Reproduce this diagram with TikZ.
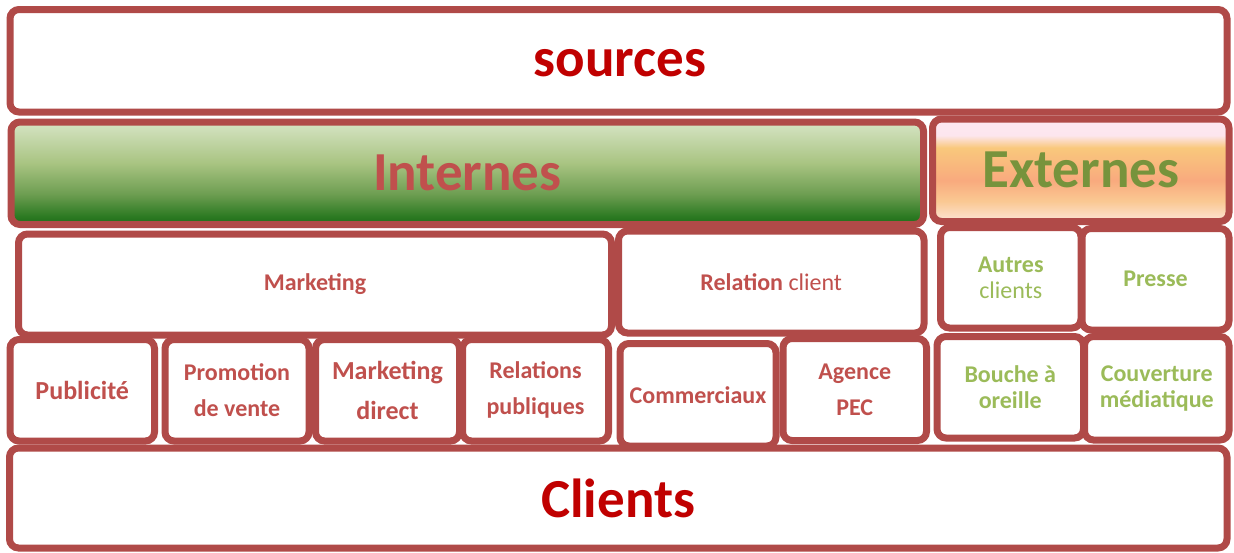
\documentclass[tikz,border=0pt]{standalone}
\usepackage{fontspec}
\setmainfont{Carlito}

\definecolor{framered}{HTML}{B04A48}
\definecolor{txtred}{HTML}{C0504D}
\definecolor{bigred}{HTML}{C00000}
\definecolor{extgreen}{HTML}{77933C}
\definecolor{lightgreen}{HTML}{9BBB59}
% shading colours
\definecolor{intA}{RGB}{30,107,26}
\definecolor{intB}{RGB}{44,122,34}
\definecolor{intC}{RGB}{110,158,82}
\definecolor{intD}{RGB}{169,196,130}
\definecolor{intE}{RGB}{214,228,196}
\definecolor{extA}{RGB}{253,228,214}
\definecolor{extB}{RGB}{250,200,146}
\definecolor{extC}{RGB}{249,170,126}
\definecolor{extD}{RGB}{249,200,124}
\definecolor{extE}{RGB}{253,230,238}
\definecolor{extF}{RGB}{253,232,242}

% 25bp = bottom and 75bp = top of the box
\pgfdeclareverticalshading{internesshade}{100bp}{color(0bp)=(intA); color(25bp)=(intA); color(29bp)=(intB); color(40bp)=(intC); color(55bp)=(intD); color(75bp)=(intE); color(100bp)=(intE)}
\pgfdeclareverticalshading{externesshade}{100bp}{color(0bp)=(extA); color(25bp)=(extA); color(35bp)=(extB); color(45bp)=(extC); color(61bp)=(extD); color(67bp)=(extE); color(75bp)=(extF); color(100bp)=(extF)}

\tikzset{
  tile/.style={draw=framered, line width=7pt, rounded corners=9pt, fill=white, inner sep=0pt, align=center},
  bigtext/.style={font=\fontsize{55}{60}\selectfont\bfseries},
  redtext/.style={font=\fontsize{24}{36}\selectfont\bfseries, text=txtred},
  redlarge/.style={font=\fontsize{26}{40}\selectfont\bfseries, text=txtred},
  greentext/.style={font=\fontsize{24}{26}\selectfont\bfseries, text=lightgreen}
}

\begin{document}
\begin{tikzpicture}[x=1pt,y=-1pt]
\useasboundingbox (0,0) rectangle (1234,552);
% top and bottom bands
\node [tile, minimum width=1217pt, minimum height=102.5pt] (sources) at (618.5,60.75) {};
\node [bigtext, text=bigred] (sourceslabel) at (620,63) {sources};
\node [tile, bigtext, text=bigred, minimum width=1217.5pt, minimum height=100pt] (clients) at (618.25,498) {Clients};
% second row
\node [tile, bigtext, text=txtred, shade, shading=internesshade, minimum width=912.5pt, minimum height=102.5pt] (internes) at (467.25,173.25) {Internes};
\node [tile, bigtext, text=extgreen, shade, shading=externesshade, minimum width=296.5pt, minimum height=102.5pt] (externes) at (1080.75,170.25) {Externes};
% third row
\node [tile, redtext, minimum width=593pt, minimum height=101pt] (marketing) at (315,284.5) {Marketing};
\node [tile, redtext, minimum width=305.5pt, minimum height=102pt] (relation) at (771.25,282) {Relation {\mdseries client}};
\node [tile, greentext, minimum width=140.5pt, minimum height=100.5pt] (autres) at (1010.75,277.75) {Autres\\{\mdseries clients}};
\node [tile, greentext, minimum width=147pt, minimum height=101.5pt] (presse) at (1155.5,279.25) {Presse};
% fourth row
\node [tile, redlarge, minimum width=144.5pt, minimum height=101.5pt] (publicite) at (82.25,390.25) {Publicité};
\node [tile, redtext, minimum width=144pt, minimum height=101.5pt] (promotion) at (237,390.25) {Promotion\\de vente};
\node [tile, redlarge, minimum width=144pt, minimum height=101.5pt] (mdirect) at (387.5,390.25) {Marketing\\direct};
\node [tile, redtext, minimum width=146pt, minimum height=101.5pt] (relpub) at (535.5,390.25) {Relations\\publiques};
\node [tile, redtext, minimum width=156pt, minimum height=102.5pt] (commerciaux) at (698,394.75) {Commerciaux};
\node [tile, redtext, minimum width=143.5pt, minimum height=102pt] (agence) at (854.75,389.5) {Agence\\PEC};
\node [tile, greentext, minimum width=146.5pt, minimum height=101.5pt] (bouche) at (1010.25,387.25) {Bouche à\\oreille};
\node [tile, greentext, minimum width=144.5pt, minimum height=103.5pt] (couverture) at (1156.75,388.25) {Couverture\\médiatique};
\end{tikzpicture}
\end{document}
